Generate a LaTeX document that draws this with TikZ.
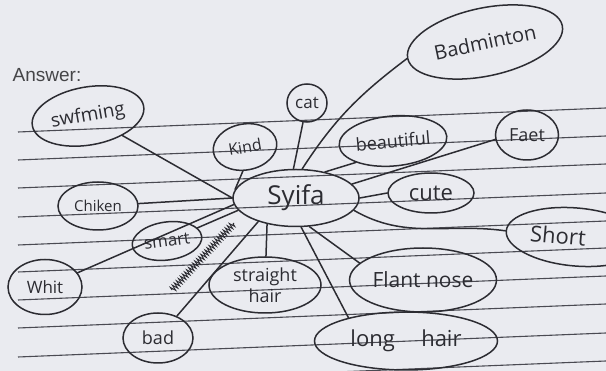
\documentclass[tikz,border=0pt]{standalone}
\usepackage{fontspec}
\setmainfont{Open Sans}
\newfontfamily\printfont{Liberation Sans}
\usetikzlibrary{shapes.geometric,decorations.pathmorphing}
\definecolor{paper}{HTML}{EAEBF0}
\definecolor{pen}{HTML}{2C2C32}
\definecolor{ruleline}{HTML}{4A4A52}
\definecolor{printed}{HTML}{454548}
\newcommand{\fsz}[1]{\fontsize{#1}{#1}\selectfont}
\begin{document}
\begin{tikzpicture}[x=1pt,y=-1pt,
  bub/.style={ellipse,draw=pen,line width=1.5pt,inner sep=0pt,text=pen},
  conn/.style={draw=pen,line width=1.5pt,line cap=round},
  rl/.style={draw=ruleline,line width=1.1pt}]
\useasboundingbox (0,0) rectangle (606,371);
\clip (0,0) rectangle (606,371);
\fill[paper] (0,0) rectangle (606,371);
\foreach \L in {132,160,188,217,245,272,300,328,357,385}
  \draw[rl] (18,\L) -- (606,\L-24);

\node[font=\printfont\fontsize{19}{22}\selectfont,text=printed] (ans) at (47,75) {Answer:};

% nodes
\node[bub,minimum width=126pt,minimum height=57pt,font=\fsz{26}] (syifa) at (296,198) {Syifa};
\node[bub,minimum width=113pt,minimum height=58pt,rotate=10,font=\fsz{19}] (swim) at (88,116) {swfming};
\node[bub,minimum width=64pt,minimum height=46pt,rotate=10,font=\fsz{16}] (kind) at (245,147) {Kind};
\node[bub,minimum width=40pt,minimum height=38pt,font=\fsz{17}] (cat) at (307,103) {cat};
\node[bub,minimum width=158pt,minimum height=68pt,rotate=12,font=\fsz{20}] (badm) at (485,42) {Badminton};
\node[bub,minimum width=108pt,minimum height=50pt,rotate=5,font=\fsz{18}] (beaut) at (393,141) {beautiful};
\node[bub,minimum width=63pt,minimum height=50pt,font=\fsz{18}] (fact) at (527,135) {Faet};
\node[bub,minimum width=86pt,minimum height=40pt,font=\fsz{22}] (cute) at (431,193) {cute};
\node[bub,minimum width=80pt,minimum height=48pt,font=\fsz{15}] (chiken) at (98,206) {Chiken};
\node[bub,minimum width=70pt,minimum height=38pt,rotate=8,font=\fsz{17}] (smart) at (167,241) {smart};
\node[bub,minimum width=74pt,minimum height=55pt,font=\fsz{17}] (whit) at (45,287) {Whit};
\node[bub,minimum width=70pt,minimum height=50pt,font=\fsz{18}] (bad) at (158,338) {bad};
\node[bub,minimum width=112pt,minimum height=56pt,align=center,font=\fontsize{18}{21}\selectfont] (straight) at (265,285) {straight\\hair};
\node[bub,minimum width=147pt,minimum height=64pt,font=\fsz{21}] (flant) at (423,280) {Flant nose};
\node[bub,minimum width=183pt,minimum height=58pt,font=\fsz{22}] (long) at (406,341) {long\hspace{1.2em}hair};
\node[bub,minimum width=140pt,minimum height=58pt,rotate=-5,font=\fsz{22}] (short) at (576,237) {Short\hspace*{36pt}};

% connectors
\draw[conn] (swim) -- (syifa.180);
\draw[conn] (kind.255) -- (syifa.172);
\draw[conn] (chiken) -- (syifa.180);
\draw[conn] (whit) -- (syifa.186);
\draw[conn] (smart) -- (syifa.192);
\draw[conn] (bad) -- (syifa.212);
\draw[conn] (straight) -- (syifa.222);
\draw[conn] (syifa.280) -- (long.158);
\draw[conn] (syifa.295) -- (flant.165);
\draw[conn] (syifa.348) to[out=-30,in=172] (short.west);
\draw[conn] (syifa.east) -- (cute.west);
\draw[conn] (syifa.14) -- (fact.188);
\draw[conn] (syifa.42) -- (beaut.205);
\draw[conn] (syifa.78) to[out=57,in=217] (badm.west);
\draw[conn] (cat) -- (syifa.95);

% crossed-out scribble
\draw[pen,line width=0.9pt,decorate,decoration={zigzag,segment length=3pt,amplitude=3pt}] (172,290) -- (234,223);
\end{tikzpicture}
\end{document}
